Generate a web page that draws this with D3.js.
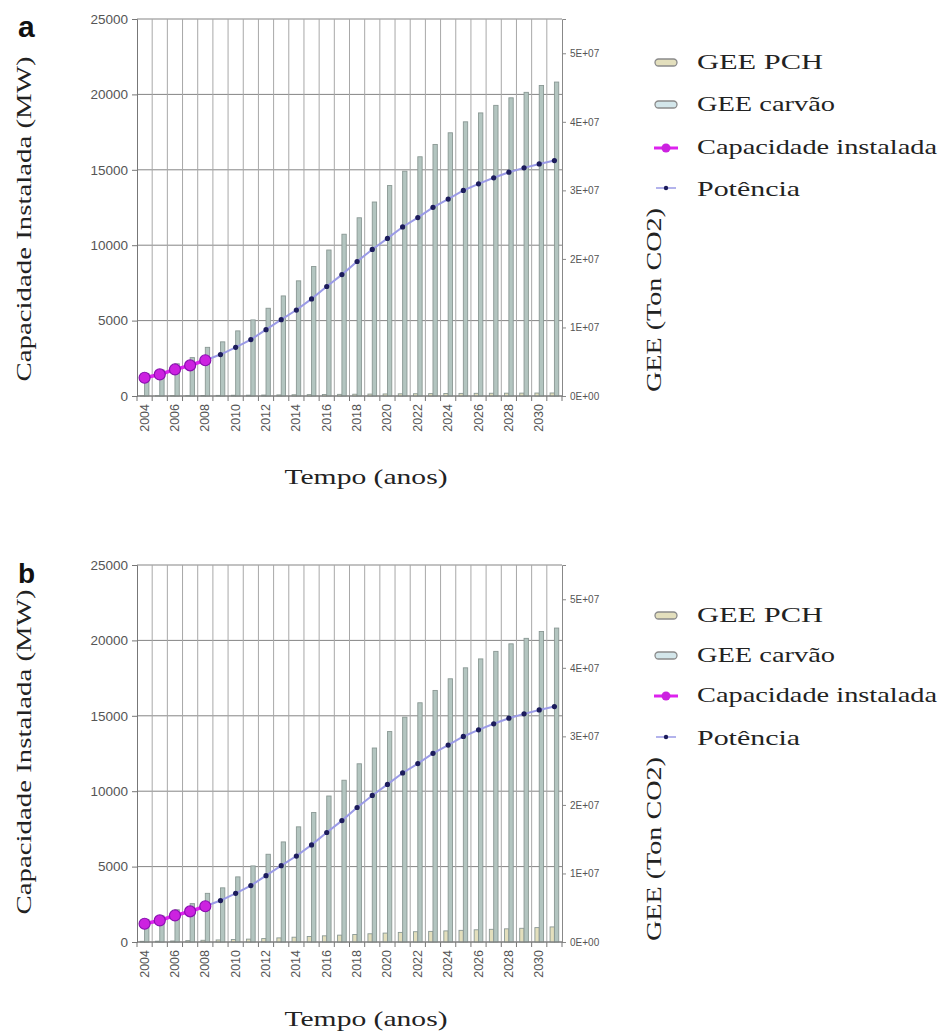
<!DOCTYPE html>
<html>
<head>
<meta charset="utf-8">
<script src="https://cdn.jsdelivr.net/npm/d3@7"></script>
<style>
  html, body { margin: 0; padding: 0; background: #fff; }
  svg { display: block; }
</style>
</head>
<body>
<svg id="chart" width="941" height="1034"></svg>
<script>
// Categories (years)
const years = [2004, 2005, 2006, 2007, 2008, 2009, 2010, 2011, 2012, 2013, 2014, 2015, 2016, 2017,
               2018, 2019, 2020, 2021, 2022, 2023, 2024, 2025, 2026, 2027, 2028, 2029, 2030, 2031];

// Installed capacity (MW), historical
const capacidadeYears = [2004, 2005, 2006, 2007, 2008];
const capacidade = [1210, 1430, 1760, 2030, 2370];

// Projected power (MW)
const potenciaYears = [2008, 2009, 2010, 2011, 2012, 2013, 2014, 2015, 2016, 2017, 2018, 2019,
                       2020, 2021, 2022, 2023, 2024, 2025, 2026, 2027, 2028, 2029, 2030, 2031];
const potencia = [2370, 2750, 3230, 3740, 4400, 5060, 5700, 6440, 7260, 8050, 8920, 9720,
                  10450, 11210, 11830, 12510, 13060, 13630, 14070, 14470, 14840, 15130, 15390, 15610];

// GHG emissions, coal scenario (t CO2)
const geeCarvao = [3.3e6, 3.8e6, 4.7e6, 5.6e6, 7.1e6, 7.9e6, 9.5e6, 11.1e6, 12.8e6, 14.6e6, 16.8e6, 18.9e6,
                   21.3e6, 23.6e6, 26.0e6, 28.3e6, 30.7e6, 32.8e6, 34.9e6, 36.7e6, 38.4e6, 40.0e6, 41.3e6,
                   42.4e6, 43.5e6, 44.3e6, 45.3e6, 45.8e6];

// GHG emissions, small hydro scenario (t CO2), panel a and panel b
const geePchA = [0.03e6, 0.04e6, 0.05e6, 0.06e6, 0.08e6, 0.09e6, 0.11e6, 0.12e6, 0.14e6, 0.16e6, 0.18e6, 0.2e6,
                 0.22e6, 0.24e6, 0.26e6, 0.28e6, 0.3e6, 0.32e6, 0.33e6, 0.35e6, 0.36e6, 0.38e6, 0.39e6,
                 0.4e6, 0.41e6, 0.42e6, 0.43e6, 0.44e6];
const geePchB = [0.1e6, 0.12e6, 0.15e6, 0.2e6, 0.25e6, 0.3e6, 0.36e6, 0.42e6, 0.5e6, 0.6e6, 0.7e6, 0.8e6,
                 0.9e6, 1.0e6, 1.1e6, 1.2e6, 1.3e6, 1.4e6, 1.5e6, 1.55e6, 1.62e6, 1.7e6, 1.78e6,
                 1.85e6, 1.92e6, 2.0e6, 2.1e6, 2.2e6];

// Axis ticks
const leftTicks = [0, 5000, 10000, 15000, 20000, 25000];
const rightTicks = [0, 1e7, 2e7, 3e7, 4e7, 5e7];
const yearLabels = [2004, 2006, 2008, 2010, 2012, 2014, 2016, 2018, 2020, 2022, 2024, 2026, 2028, 2030];

// Legend entries
const legendLabels = ["GEE PCH", "GEE carvão", "Capacidade instalada", "Potência"];

const panels = [
  { label: "a", pch: geePchA, top: 19, legendY: [60, 102, 145, 187], titleY: 219, rightTitleY: 300, xTitleY: 484, labelY: 37, labelSize: 30 },
  { label: "b", pch: geePchB, top: 565, legendY: [613, 653, 693, 736], titleY: 752, rightTitleY: 849, xTitleY: 1026, labelY: 583, labelSize: 28 }
];

const svg = d3.select("#chart");
const sans = "'Liberation Sans', Arial, sans-serif";
const serif = "'Liberation Serif', 'Times New Roman', serif";

const left = 137, right = 562, plotH = 377;
const barColors = { pch: "#e3dfbd", carvao: "#b3c5c0" };
const barStroke = "#8a9894";

panels.forEach(p => {
  const g = svg.append("g");
  const top = p.top, bottom = top + plotH;

  const x = d3.scaleBand().domain(years).range([left, right]).paddingInner(0).paddingOuter(0);
  const bw = x.bandwidth();
  const xs = d3.scaleBand().domain(["pch", "carvao"]).range([0, bw]).paddingInner(0).paddingOuter(0.75);
  const yL = d3.scaleLinear().domain([0, 25000]).range([bottom, top]);
  const yR = d3.scaleLinear().domain([0, 5.5e7]).range([bottom, top]);

  // horizontal gridlines
  g.append("g").selectAll("line").data(leftTicks).join("line")
    .attr("x1", left).attr("x2", right)
    .attr("y1", d => yL(d)).attr("y2", d => yL(d))
    .attr("stroke", "#858585").attr("stroke-width", 1);

  // vertical gridlines at category boundaries
  const bounds = years.map(yr => x(yr)).concat([right]);
  g.append("g").selectAll("line").data(bounds.slice(1, -1)).join("line")
    .attr("x1", d => d).attr("x2", d => d)
    .attr("y1", top).attr("y2", bottom)
    .attr("stroke", "#a8a8a8").attr("stroke-width", 1);

  // bars
  const barData = [];
  years.forEach((yr, i) => {
    barData.push({ yr, key: "pch", v: p.pch[i] });
    barData.push({ yr, key: "carvao", v: geeCarvao[i] });
  });
  g.append("g").selectAll("rect").data(barData).join("rect")
    .attr("x", d => x(d.yr) + xs(d.key))
    .attr("width", xs.bandwidth())
    .attr("y", d => yR(d.v))
    .attr("height", d => yR(0) - yR(d.v))
    .attr("fill", d => barColors[d.key])
    .attr("stroke", barStroke).attr("stroke-width", 0.9);

  // left axis
  const axL = g.append("g").attr("transform", `translate(${left},0)`)
    .call(d3.axisLeft(yL).tickValues(leftTicks).tickSize(5).tickPadding(4).tickFormat(d3.format("d")));
  axL.select(".domain").attr("stroke", "#777");
  axL.selectAll(".tick line").attr("stroke", "#777");
  axL.selectAll("text").attr("font-family", sans).attr("font-size", 13.5).attr("fill", "#555");

  // right axis
  const axR = g.append("g").attr("transform", `translate(${right},0)`)
    .call(d3.axisRight(yR).tickValues(rightTicks).tickSize(4).tickPadding(4)
      .tickFormat(d => d === 0 ? "0E+00" : (d / 1e7) + "E+07"));
  axR.select(".domain").attr("stroke", "#888");
  axR.selectAll(".tick line").attr("stroke", "#888");
  axR.selectAll("text").attr("font-family", sans).attr("font-size", 10).attr("fill", "#555");

  // bottom axis: boundary ticks + rotated year labels
  g.append("line").attr("x1", left).attr("x2", right).attr("y1", bottom).attr("y2", bottom)
    .attr("stroke", "#777");
  g.append("g").selectAll("line").data(bounds).join("line")
    .attr("x1", d => d).attr("x2", d => d).attr("y1", bottom).attr("y2", bottom + 5)
    .attr("stroke", "#777");
  g.append("g").selectAll("text").data(yearLabels).join("text")
    .attr("transform", d => `translate(${x(d) + bw / 2 + 4},${bottom + 8}) rotate(-90)`)
    .attr("text-anchor", "end")
    .attr("font-family", sans).attr("font-size", 12.5).attr("fill", "#555")
    .text(d => d);

  // lines
  const cx = yr => x(yr) + bw / 2;
  const potPts = potenciaYears.map((yr, i) => [cx(yr), yL(potencia[i])]);
  const capPts = capacidadeYears.map((yr, i) => [cx(yr), yL(capacidade[i])]);

  g.append("path").attr("d", d3.line()(potPts))
    .attr("fill", "none").attr("stroke", "#9a9ae6").attr("stroke-width", 2);
  g.append("g").selectAll("circle").data(potPts).join("circle")
    .attr("cx", d => d[0]).attr("cy", d => d[1]).attr("r", 2.6)
    .attr("fill", "#1c1c5c");

  g.append("path").attr("d", d3.line()(capPts))
    .attr("fill", "none").attr("stroke", "#dd22ee").attr("stroke-width", 3.5);
  g.append("g").selectAll("circle").data(capPts).join("circle")
    .attr("cx", d => d[0]).attr("cy", d => d[1]).attr("r", 5.5)
    .attr("fill", "#cc22e0").attr("stroke", "#8a10b0").attr("stroke-width", 1.2);

  // axis titles
  g.append("text")
    .attr("transform", `translate(31,${p.titleY}) rotate(-90)`)
    .attr("text-anchor", "middle")
    .attr("font-family", serif).attr("font-size", 22).attr("fill", "#222")
    .attr("textLength", 325).attr("lengthAdjust", "spacingAndGlyphs")
    .text("Capacidade Instalada (MW)");

  g.append("text")
    .attr("transform", `translate(661,${p.rightTitleY}) rotate(-90)`)
    .attr("text-anchor", "middle")
    .attr("font-family", serif).attr("font-size", 22).attr("fill", "#222")
    .attr("textLength", 184).attr("lengthAdjust", "spacingAndGlyphs")
    .text("GEE (Ton CO2)");

  g.append("text")
    .attr("x", 366).attr("y", p.xTitleY)
    .attr("text-anchor", "middle")
    .attr("font-family", serif).attr("font-size", 22).attr("fill", "#222")
    .attr("textLength", 163).attr("lengthAdjust", "spacingAndGlyphs")
    .text("Tempo (anos)");

  // panel label
  g.append("text")
    .attr("x", 18).attr("y", p.labelY)
    .attr("font-family", sans).attr("font-weight", "bold")
    .attr("font-size", p.labelSize).attr("fill", "#111")
    .text(p.label);

  // legend
  const lg = g.append("g");
  const lens = [126, 138, 240, 103];
  legendLabels.forEach((lab, i) => {
    const yy = p.legendY[i];
    if (i < 2) {
      lg.append("rect").attr("x", 655).attr("y", yy - 1).attr("width", 22).attr("height", 7)
        .attr("rx", 3.5)
        .attr("fill", i === 0 ? barColors.pch : "#d3e6ea")
        .attr("stroke", "#8a8a8a").attr("stroke-width", 1.3);
    } else if (i === 2) {
      lg.append("line").attr("x1", 654).attr("x2", 678).attr("y1", yy + 3).attr("y2", yy + 3)
        .attr("stroke", "#dd22ee").attr("stroke-width", 3);
      lg.append("circle").attr("cx", 666).attr("cy", yy + 3).attr("r", 4.5)
        .attr("fill", "#cc22e0");
    } else {
      lg.append("line").attr("x1", 656).attr("x2", 676).attr("y1", yy + 1).attr("y2", yy + 1)
        .attr("stroke", "#9a9ae6").attr("stroke-width", 1.5);
      lg.append("circle").attr("cx", 666).attr("cy", yy + 1).attr("r", 2.2)
        .attr("fill", "#1c1c5c");
    }
    lg.append("text").attr("x", 697).attr("y", yy + 9)
      .attr("font-family", serif).attr("font-size", 22).attr("fill", "#222")
      .attr("textLength", lens[i]).attr("lengthAdjust", "spacingAndGlyphs")
      .text(lab);
  });
});
</script>
</body>
</html>
